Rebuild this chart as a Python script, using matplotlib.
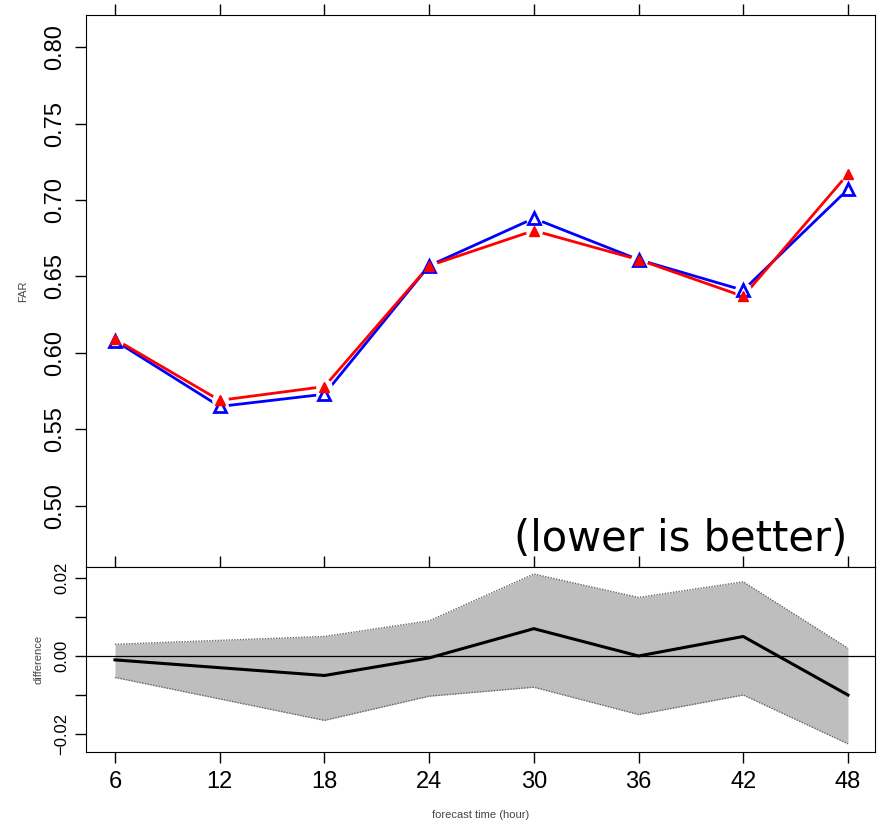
import matplotlib
matplotlib.use("Agg")
import matplotlib.pyplot as plt
import numpy as np

# --- Data ------------------------------------------------------------------
hours = [6, 12, 18, 24, 30, 36, 42, 48]
far_blue = [0.608, 0.565, 0.573, 0.657, 0.688, 0.661, 0.641, 0.707]
far_red = [0.609, 0.569, 0.578, 0.657, 0.680, 0.661, 0.637, 0.717]

diff = [-0.001, -0.003, -0.005, -0.0005, 0.007, 0.000, 0.005, -0.010]
diff_upper = [0.003, 0.004, 0.005, 0.009, 0.021, 0.015, 0.019, 0.002]
diff_lower = [-0.0055, -0.011, -0.0165, -0.0103, -0.008, -0.015, -0.010, -0.0225]

top_ticks = [0.50, 0.55, 0.60, 0.65, 0.70, 0.75, 0.80]
bottom_ticks = [-0.02, 0.00, 0.02]
bottom_minor = [-0.01, 0.01]

plt.rcParams["font.family"] = ["Liberation Sans", "DejaVu Sans"]

fig = plt.figure(figsize=(8.77, 8.27), dpi=100)
W, H = 877, 827
ax_top = fig.add_axes([86 / W, 1 - 567 / H, 789 / W, 552 / H])
ax_bot = fig.add_axes([86 / W, 1 - 752 / H, 789 / W, 185 / H])

xlim = (4.34, 49.55)

# --- Top panel: FAR --------------------------------------------------------
ax_top.plot(hours, far_blue, color="#0000ff", lw=2.0, zorder=2)
ax_top.plot(hours, far_red, color="#ff0000", lw=2.0, zorder=2)
# white blobs to leave gaps around the points, like R type="b"
ax_top.plot(hours, far_blue, ls="none", marker="o", ms=11, mfc="white",
            mec="white", zorder=3)
ax_top.plot(hours, far_red, ls="none", marker="o", ms=11, mfc="white",
            mec="white", zorder=3)
ax_top.plot(hours, far_blue, ls="none", marker="^", ms=8, mfc="none",
            mec="#0000ff", mew=2.0, zorder=4)
ax_top.plot(hours, far_red, ls="none", marker="^", ms=7, mfc="#ff0000",
            mec="#ff0000", zorder=5)

ax_top.set_xlim(*xlim)
ax_top.set_ylim(0.460, 0.821)
ax_top.set_yticks(top_ticks)
ax_top.set_yticklabels([f"{v:.2f}" for v in top_ticks], rotation=90,
                       va="center", fontsize=17)
ax_top.set_xticks(hours)
ax_top.tick_params(axis="x", which="both", bottom=False, labelbottom=False,
                   top=True, direction="out", length=8, width=1)
ax_top.tick_params(axis="y", direction="out", length=8, width=1, pad=6)
ax_top.set_ylabel("FAR", fontsize=8, color="#444444", labelpad=12)
ax_top.text(0.965, 0.012, "(lower is better)", transform=ax_top.transAxes,
            ha="right", va="bottom", fontsize=30, family="DejaVu Sans")

# --- Bottom panel: difference ---------------------------------------------
ax_bot.fill_between(hours, diff_lower, diff_upper, color="#bebebe", lw=0,
                    zorder=1)
ax_bot.plot(hours, diff_upper, color="#666666", lw=1.0, ls=(0, (1, 1)),
            zorder=2)
ax_bot.plot(hours, diff_lower, color="#666666", lw=1.0, ls=(0, (1, 1)),
            zorder=2)
ax_bot.axhline(0, color="black", lw=0.9, zorder=3)
ax_bot.plot(hours, diff, color="black", lw=2.2, zorder=4)

ax_bot.set_xlim(*xlim)
ax_bot.set_ylim(-0.0246, 0.0228)
ax_bot.set_yticks(bottom_ticks)
ax_bot.set_yticks(bottom_minor, minor=True)
ax_bot.set_yticklabels(["\u22120.02", "0.00", "0.02"], rotation=90,
                       va="center", fontsize=12)
ax_bot.tick_params(axis="y", which="both", direction="out", length=8,
                   width=1, pad=4)
ax_bot.set_xticks(hours)
ax_bot.set_xticklabels([str(h) for h in hours], fontsize=17)
ax_bot.tick_params(axis="x", top=True, bottom=True, direction="out",
                   length=8, width=1, pad=6)
ax_bot.set_ylabel("difference", fontsize=8, color="#444444", labelpad=8)
fig.text(0.5 * (86 + 875) / W, 1 - 815 / H, "forecast time (hour)",
         ha="center", va="center", fontsize=8, color="#444444")

fig.savefig("out.png", dpi=100)
